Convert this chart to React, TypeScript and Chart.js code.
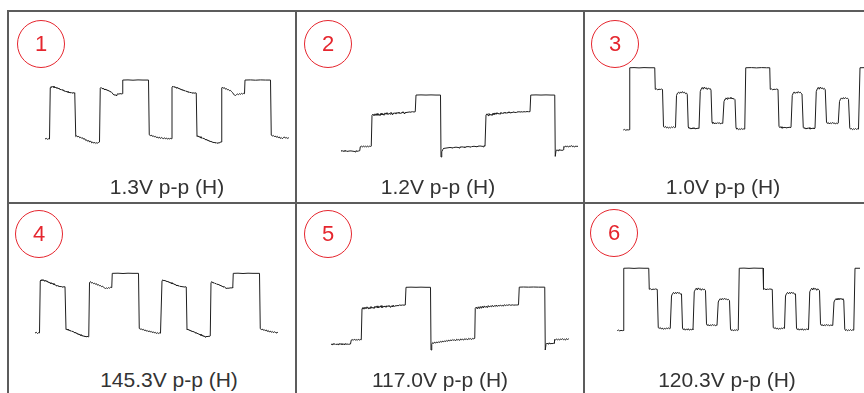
import React, { useEffect, useRef } from 'react';
import { Chart, registerables } from 'chart.js';

Chart.register(...registerables);

type Pt = [number, number];

// x: horizontal scope divisions, y: vertical scope divisions
const panelNumbers = ['1', '2', '3', '4', '5', '6'];
const ppLabels = ['1.3V p-p (H)', '1.2V p-p (H)', '1.0V p-p (H)', '145.3V p-p (H)', '117.0V p-p (H)', '120.3V p-p (H)'];

const wave1: Pt[] = [
  [0.48,2.40],[0.53,2.44],[0.58,2.38],[0.63,2.42],[0.66,2.40],
  [0.69,5.82],[0.72,5.90],[0.76,5.84],[0.80,5.92],[0.84,5.82],[0.88,5.88],[0.92,5.80],[0.96,5.84],[1.00,5.74],[1.04,5.80],[1.08,5.68],[1.12,5.72],[1.16,5.64],[1.20,5.70],[1.24,5.58],[1.28,5.62],[1.32,5.54],[1.36,5.58],[1.40,5.50],[1.44,5.54],[1.48,5.46],[1.52,5.52],[1.56,5.44],[1.60,5.50],[1.64,5.46],[1.67,5.48],
  [1.71,2.56],[1.75,2.62],[1.79,2.54],[1.83,2.58],[1.87,2.48],[1.91,2.52],[1.95,2.44],[1.99,2.48],[2.03,2.38],[2.07,2.42],[2.11,2.30],[2.15,2.34],[2.19,2.24],[2.23,2.30],[2.27,2.20],[2.31,2.26],[2.35,2.14],[2.39,2.20],[2.43,2.12],[2.47,2.18],[2.51,2.10],[2.55,2.16],[2.59,2.12],[2.63,2.18],[2.66,2.20],
  [2.69,5.78],[2.72,5.84],[2.76,5.76],[2.80,5.80],[2.84,5.70],[2.88,5.74],[2.92,5.66],[2.96,5.70],[3.00,5.60],[3.04,5.64],[3.08,5.54],[3.12,5.56],[3.16,5.48],[3.20,5.40],[3.24,5.32],[3.28,5.36],[3.32,5.30],[3.36,5.38],[3.40,5.42],[3.44,5.38],[3.48,5.44],[3.52,5.40],[3.57,5.42],
  [3.59,6.33],[3.80,6.34],[4.00,6.32],[4.20,6.34],[4.40,6.33],[4.62,6.33],
  [4.65,2.68],[4.69,2.62],[4.73,2.66],[4.77,2.58],[4.81,2.62],[4.85,2.54],[4.89,2.58],[4.93,2.50],[4.97,2.54],[5.01,2.46],[5.05,2.52],[5.09,2.44],[5.13,2.50],[5.17,2.46],[5.21,2.42],[5.25,2.48],[5.29,2.42],[5.33,2.46],[5.37,2.40],[5.41,2.44],[5.45,2.40],[5.49,2.44],[5.53,2.42],
  [5.56,5.86],[5.60,5.92],[5.64,5.84],[5.68,5.90],[5.72,5.80],[5.76,5.86],[5.80,5.76],[5.84,5.80],[5.88,5.70],[5.92,5.74],[5.96,5.64],[6.00,5.70],[6.04,5.60],[6.08,5.64],[6.12,5.56],[6.16,5.60],[6.20,5.50],[6.24,5.56],[6.28,5.48],[6.32,5.52],[6.36,5.44],[6.40,5.50],[6.44,5.44],[6.48,5.48],[6.53,5.46],
  [6.56,2.56],[6.60,2.62],[6.64,2.52],[6.68,2.56],[6.72,2.46],[6.76,2.50],[6.80,2.42],[6.84,2.46],[6.88,2.36],[6.92,2.40],[6.96,2.30],[7.00,2.34],[7.04,2.24],[7.08,2.28],[7.12,2.20],[7.16,2.24],[7.20,2.14],[7.24,2.20],[7.28,2.12],[7.32,2.18],[7.36,2.10],[7.40,2.16],[7.44,2.12],[7.48,2.18],[7.52,2.20],
  [7.55,5.80],[7.58,5.86],[7.62,5.78],[7.66,5.82],[7.70,5.72],[7.74,5.76],[7.78,5.68],[7.82,5.70],[7.86,5.62],[7.90,5.64],[7.94,5.56],[7.98,5.50],[8.02,5.40],[8.06,5.32],[8.10,5.30],[8.14,5.36],[8.18,5.40],[8.22,5.36],[8.26,5.42],[8.30,5.38],[8.34,5.44],[8.38,5.40],[8.42,5.44],[8.46,5.42],
  [8.48,6.33],[8.70,6.34],[8.90,6.32],[9.10,6.34],[9.30,6.33],[9.50,6.33],
  [9.53,2.66],[9.57,2.60],[9.61,2.64],[9.65,2.56],[9.69,2.60],[9.73,2.52],[9.77,2.58],[9.81,2.48],[9.85,2.54],[9.89,2.44],[9.93,2.50],[9.97,2.42],[10.01,2.48],[10.05,2.54],[10.09,2.46],[10.13,2.50],[10.17,2.44],[10.21,2.48],[10.24,2.46],
];

const wave2: Pt[] = [
  [0.80,1.60],[0.84,1.64],[0.88,1.56],[0.92,1.62],[0.96,1.58],[1.00,1.64],[1.04,1.55],[1.08,1.61],[1.12,1.57],[1.16,1.63],[1.20,1.58],[1.24,1.62],[1.28,1.56],[1.32,1.60],[1.36,1.54],[1.40,1.62],[1.44,1.58],[1.50,1.60],[1.55,1.62],
  [1.57,1.88],[1.62,1.92],[1.66,1.86],[1.70,1.94],[1.74,1.88],[1.78,1.92],[1.82,1.86],[1.86,1.94],[1.90,1.88],[1.94,1.92],[1.98,1.90],[2.01,1.92],
  [2.04,3.98],[2.08,4.06],[2.12,3.94],[2.16,4.08],[2.20,3.96],[2.24,4.10],[2.28,3.98],[2.32,4.06],[2.36,3.95],[2.40,4.12],[2.44,4.00],[2.48,4.08],[2.52,3.98],[2.56,4.14],[2.60,4.04],[2.64,4.16],[2.68,4.02],[2.72,4.12],[2.76,4.06],[2.80,4.18],[2.84,4.04],[2.88,4.14],[2.92,4.08],[2.96,4.16],[3.00,4.06],[3.04,4.18],[3.08,4.10],[3.12,4.20],[3.16,4.08],[3.20,4.16],[3.24,4.12],[3.28,4.22],[3.32,4.10],[3.36,4.18],[3.40,4.14],[3.44,4.20],[3.48,4.16],[3.52,4.22],[3.56,4.18],[3.60,4.20],[3.66,4.22],[3.72,4.20],[3.77,4.22],
  [3.80,5.33],[4.00,5.34],[4.20,5.33],[4.40,5.34],[4.60,5.33],[4.78,5.33],
  [4.80,1.20],[4.83,1.55],[4.88,1.72],[4.92,1.80],[4.96,1.76],[5.00,1.82],[5.04,1.78],[5.08,1.84],[5.12,1.80],[5.16,1.86],[5.20,1.80],[5.24,1.84],[5.28,1.78],[5.32,1.86],[5.36,1.82],[5.40,1.88],[5.44,1.82],[5.48,1.86],[5.52,1.80],[5.56,1.88],[5.60,1.84],[5.64,1.90],[5.68,1.84],[5.72,1.88],[5.76,1.82],[5.80,1.90],[5.84,1.86],[5.88,1.92],[5.92,1.86],[5.96,1.90],[6.00,1.84],[6.04,1.92],[6.08,1.88],[6.12,1.94],[6.16,1.88],[6.20,1.92],[6.24,1.86],[6.28,1.94],[6.32,1.90],[6.36,1.96],[6.40,1.90],[6.44,1.94],[6.48,1.88],[6.52,1.96],[6.56,1.92],
  [6.60,4.00],[6.64,4.08],[6.68,3.96],[6.72,4.10],[6.76,3.98],[6.80,4.06],[6.84,3.96],[6.88,4.12],[6.92,4.02],[6.96,4.14],[7.00,4.04],[7.04,4.16],[7.08,4.06],[7.12,4.12],[7.16,4.04],[7.20,4.18],[7.24,4.08],[7.28,4.16],[7.32,4.10],[7.36,4.20],[7.40,4.10],[7.44,4.18],[7.48,4.12],[7.52,4.22],[7.56,4.12],[7.60,4.18],[7.64,4.14],[7.68,4.22],[7.72,4.16],[7.76,4.20],[7.80,4.14],[7.84,4.22],[7.88,4.18],[7.92,4.24],[7.96,4.18],[8.00,4.22],[8.06,4.20],[8.12,4.22],[8.18,4.21],[8.24,4.23],[8.30,4.22],[8.36,4.22],
  [8.39,5.33],[8.60,5.34],[8.80,5.33],[9.00,5.34],[9.20,5.33],[9.35,5.33],
  [9.37,1.24],[9.40,1.62],[9.44,1.68],[9.48,1.62],[9.52,1.70],[9.56,1.64],[9.60,1.68],[9.64,1.62],[9.68,1.68],
  [9.71,1.90],[9.75,1.86],[9.79,1.94],[9.83,1.88],[9.87,1.92],[9.91,1.86],[9.95,1.94],[9.99,1.90],[10.03,1.96],[10.07,1.88],[10.11,1.92],[10.15,1.86],[10.19,1.94],[10.23,1.90],[10.28,1.92],
];

const wave3: Pt[] = [
  [0.57,3.00],[0.62,3.04],[0.67,2.98],[0.72,3.02],[0.77,3.00],[0.80,3.02],
  [0.83,7.15],[1.00,7.16],[1.20,7.14],[1.40,7.16],[1.60,7.15],[1.83,7.15],
  [1.85,5.71],[1.90,5.74],[1.95,5.68],[2.00,5.72],[2.05,5.70],[2.10,5.73],[2.14,5.70],
  [2.18,3.22],[2.22,3.18],[2.26,3.24],[2.30,3.14],[2.34,3.20],[2.38,3.12],[2.42,3.18],[2.46,3.14],[2.50,3.20],[2.54,3.16],[2.58,3.22],[2.62,3.16],[2.66,3.18],
  [2.70,5.30],[2.74,5.46],[2.78,5.52],[2.82,5.44],[2.86,5.54],[2.90,5.46],[2.94,5.56],[2.98,5.48],[3.02,5.52],[3.06,5.42],[3.10,5.46],[3.13,5.38],
  [3.17,3.20],[3.20,3.10],[3.24,3.16],[3.28,3.06],[3.32,3.14],[3.36,3.08],[3.40,3.16],[3.44,3.06],[3.48,3.12],[3.52,3.08],[3.56,3.14],[3.60,3.10],
  [3.65,5.56],[3.69,5.74],[3.73,5.84],[3.77,5.72],[3.81,5.86],[3.85,5.76],[3.89,5.82],[3.93,5.70],[3.97,5.80],[4.01,5.74],[4.05,5.76],[4.08,5.66],
  [4.12,3.52],[4.15,3.44],[4.19,3.50],[4.23,3.40],[4.27,3.48],[4.31,3.42],[4.35,3.50],[4.39,3.44],[4.43,3.48],[4.47,3.40],[4.51,3.46],[4.55,3.44],
  [4.60,4.90],[4.64,5.06],[4.68,5.14],[4.72,5.06],[4.76,5.16],[4.80,5.08],[4.84,5.16],[4.88,5.10],[4.92,5.14],[4.96,5.06],[5.00,5.10],[5.04,5.02],
  [5.08,3.14],[5.11,3.06],[5.15,3.10],[5.19,3.02],[5.23,3.08],[5.27,3.04],[5.31,3.10],[5.35,3.04],[5.39,3.08],[5.43,3.06],
  [5.47,7.15],[5.70,7.16],[5.90,7.14],[6.10,7.16],[6.30,7.15],[6.43,7.15],
  [6.45,5.71],[6.50,5.74],[6.55,5.68],[6.60,5.72],[6.65,5.70],[6.70,5.73],[6.76,5.70],
  [6.80,3.22],[6.84,3.16],[6.88,3.22],[6.92,3.12],[6.96,3.18],[7.00,3.14],[7.04,3.20],[7.08,3.12],[7.12,3.18],[7.16,3.14],[7.20,3.20],[7.24,3.16],[7.28,3.18],
  [7.33,5.30],[7.37,5.46],[7.41,5.54],[7.45,5.44],[7.49,5.52],[7.53,5.46],[7.57,5.56],[7.61,5.48],[7.65,5.52],[7.69,5.44],[7.72,5.40],
  [7.77,3.18],[7.80,3.10],[7.84,3.16],[7.88,3.06],[7.92,3.14],[7.96,3.08],[8.00,3.16],[8.04,3.06],[8.08,3.12],[8.12,3.08],[8.16,3.14],[8.20,3.08],[8.24,3.12],
  [8.29,5.56],[8.33,5.74],[8.37,5.84],[8.41,5.72],[8.45,5.86],[8.49,5.76],[8.53,5.82],[8.57,5.72],[8.61,5.78],[8.65,5.68],
  [8.70,3.52],[8.73,3.44],[8.77,3.50],[8.81,3.40],[8.85,3.48],[8.89,3.42],[8.93,3.50],[8.97,3.44],[9.01,3.48],[9.05,3.40],[9.09,3.46],[9.13,3.42],[9.17,3.46],
  [9.22,4.90],[9.26,5.06],[9.30,5.14],[9.34,5.06],[9.38,5.16],[9.42,5.08],[9.46,5.16],[9.50,5.10],[9.54,5.12],[9.58,5.04],
  [9.63,3.14],[9.66,3.06],[9.70,3.10],[9.74,3.02],[9.78,3.08],[9.82,3.04],[9.86,3.10],[9.90,3.04],[9.94,3.08],[9.98,3.06],
  [10.04,7.15],[10.30,7.16],[10.60,7.15],
];

const wave4: Pt[] = [
  [0.08,2.33],[0.13,2.38],[0.18,2.30],[0.23,2.36],[0.26,2.34],
  [0.29,5.80],[0.32,5.88],[0.36,5.82],[0.40,5.90],[0.44,5.80],[0.48,5.86],[0.52,5.76],[0.56,5.82],[0.60,5.70],[0.64,5.74],[0.68,5.64],[0.72,5.70],[0.76,5.60],[0.80,5.64],[0.84,5.54],[0.88,5.58],[0.92,5.48],[0.96,5.52],[1.00,5.44],[1.04,5.48],[1.08,5.40],[1.12,5.46],[1.16,5.38],[1.20,5.42],[1.24,5.40],[1.28,5.42],
  [1.32,2.56],[1.36,2.60],[1.40,2.52],[1.44,2.56],[1.48,2.46],[1.52,2.50],[1.56,2.42],[1.60,2.46],[1.64,2.36],[1.68,2.40],[1.72,2.30],[1.76,2.34],[1.80,2.22],[1.84,2.28],[1.88,2.18],[1.92,2.24],[1.96,2.12],[2.00,2.18],[2.04,2.08],[2.08,2.14],[2.12,2.06],[2.16,2.12],[2.20,2.08],[2.23,2.12],
  [2.26,5.70],[2.30,5.76],[2.34,5.66],[2.38,5.70],[2.42,5.62],[2.46,5.66],[2.50,5.58],[2.54,5.62],[2.58,5.52],[2.62,5.56],[2.66,5.48],[2.70,5.50],[2.74,5.42],[2.78,5.46],[2.82,5.38],[2.86,5.34],[2.90,5.30],[2.94,5.34],[2.98,5.30],[3.02,5.36],[3.06,5.32],[3.10,5.38],[3.15,5.36],
  [3.17,6.31],[3.40,6.32],[3.60,6.30],[3.80,6.32],[4.00,6.31],[4.22,6.31],
  [4.25,2.64],[4.29,2.58],[4.33,2.62],[4.37,2.54],[4.41,2.58],[4.45,2.50],[4.49,2.54],[4.53,2.46],[4.57,2.50],[4.61,2.42],[4.65,2.48],[4.69,2.40],[4.73,2.44],[4.77,2.36],[4.81,2.42],[4.85,2.34],[4.89,2.38],[4.93,2.30],[4.97,2.36],[5.01,2.30],[5.05,2.34],[5.10,2.32],
  [5.16,5.82],[5.20,5.88],[5.24,5.80],[5.28,5.86],[5.32,5.76],[5.36,5.80],[5.40,5.72],[5.44,5.76],[5.48,5.66],[5.52,5.70],[5.56,5.60],[5.60,5.66],[5.64,5.56],[5.68,5.60],[5.72,5.50],[5.76,5.54],[5.80,5.46],[5.84,5.50],[5.88,5.42],[5.92,5.46],[5.96,5.40],[6.00,5.44],[6.04,5.38],[6.08,5.42],[6.13,5.40],
  [6.16,2.54],[6.20,2.60],[6.24,2.50],[6.28,2.54],[6.32,2.44],[6.36,2.48],[6.40,2.40],[6.44,2.44],[6.48,2.34],[6.52,2.38],[6.56,2.28],[6.60,2.32],[6.64,2.22],[6.68,2.26],[6.72,2.16],[6.76,2.22],[6.80,2.10],[6.84,2.16],[6.88,2.06],[6.92,2.12],[6.96,2.08],[7.00,2.12],[7.04,2.10],[7.09,2.14],
  [7.12,5.70],[7.16,5.76],[7.20,5.66],[7.24,5.70],[7.28,5.62],[7.32,5.64],[7.36,5.56],[7.40,5.60],[7.44,5.52],[7.48,5.54],[7.52,5.46],[7.56,5.48],[7.60,5.40],[7.64,5.44],[7.68,5.36],[7.72,5.32],[7.76,5.30],[7.80,5.34],[7.84,5.30],[7.88,5.36],[7.92,5.32],[7.96,5.36],[7.99,5.34],
  [8.01,6.31],[8.20,6.32],[8.40,6.30],[8.60,6.32],[8.80,6.31],[9.06,6.31],
  [9.09,2.62],[9.13,2.56],[9.17,2.60],[9.21,2.52],[9.25,2.56],[9.29,2.48],[9.33,2.54],[9.37,2.44],[9.41,2.50],[9.45,2.40],[9.49,2.46],[9.53,2.38],[9.57,2.44],[9.61,2.36],[9.65,2.42],[9.69,2.38],[9.73,2.34],[9.76,2.40],[9.79,2.36],
];

const wave5: Pt[] = [
  [0.40,1.60],[0.44,1.56],[0.48,1.63],[0.52,1.57],[0.56,1.62],[0.60,1.55],[0.64,1.61],[0.68,1.56],[0.72,1.63],[0.76,1.58],[0.80,1.62],[0.84,1.56],[0.88,1.61],[0.92,1.57],[0.96,1.63],[1.00,1.58],[1.04,1.60],[1.10,1.58],[1.18,1.60],
  [1.21,1.86],[1.25,1.90],[1.29,1.84],[1.33,1.92],[1.37,1.86],[1.41,1.90],[1.45,1.84],[1.49,1.92],[1.53,1.86],[1.57,1.90],[1.61,1.88],
  [1.64,3.96],[1.68,4.04],[1.72,3.92],[1.76,4.06],[1.80,3.94],[1.84,4.08],[1.88,3.96],[1.92,4.04],[1.96,3.94],[2.00,4.10],[2.04,3.98],[2.08,4.06],[2.12,3.96],[2.16,4.12],[2.20,4.02],[2.24,4.14],[2.28,4.00],[2.32,4.10],[2.36,4.04],[2.40,4.16],[2.44,4.02],[2.48,4.12],[2.52,4.06],[2.56,4.14],[2.60,4.04],[2.64,4.16],[2.68,4.08],[2.72,4.18],[2.76,4.06],[2.80,4.14],[2.84,4.10],[2.88,4.20],[2.92,4.08],[2.96,4.16],[3.00,4.12],[3.04,4.18],[3.08,4.14],[3.14,4.20],[3.20,4.18],[3.26,4.20],[3.32,4.19],[3.37,4.20],
  [3.40,5.38],[3.60,5.39],[3.80,5.38],[4.00,5.39],[4.20,5.38],[4.38,5.38],
  [4.40,1.20],[4.43,1.58],[4.47,1.70],[4.51,1.64],[4.55,1.72],[4.59,1.66],[4.63,1.74],[4.67,1.68],[4.71,1.76],[4.75,1.70],[4.79,1.78],[4.83,1.72],[4.87,1.80],[4.91,1.74],[4.95,1.82],[4.99,1.76],[5.03,1.84],[5.07,1.78],[5.11,1.86],[5.15,1.80],[5.19,1.88],[5.23,1.82],[5.27,1.90],[5.31,1.84],[5.35,1.88],[5.39,1.82],[5.43,1.92],[5.47,1.86],[5.51,1.90],[5.55,1.84],[5.59,1.94],[5.63,1.88],[5.67,1.92],[5.71,1.86],[5.75,1.96],[5.79,1.90],[5.83,1.94],[5.87,1.88],[5.91,1.98],[5.95,1.92],[5.99,1.96],[6.03,1.90],[6.07,1.98],[6.11,1.94],[6.15,1.98],
  [6.17,3.98],[6.21,4.06],[6.25,3.94],[6.29,4.08],[6.33,3.96],[6.37,4.10],[6.41,3.98],[6.45,4.12],[6.49,4.00],[6.53,4.14],[6.57,4.04],[6.61,4.12],[6.65,4.02],[6.69,4.16],[6.73,4.06],[6.77,4.14],[6.81,4.08],[6.85,4.18],[6.89,4.08],[6.93,4.16],[6.97,4.10],[7.01,4.20],[7.05,4.10],[7.09,4.18],[7.13,4.12],[7.17,4.20],[7.21,4.14],[7.25,4.18],[7.29,4.12],[7.33,4.22],[7.37,4.16],[7.41,4.20],[7.47,4.18],[7.53,4.22],[7.59,4.18],[7.65,4.21],[7.71,4.19],[7.77,4.20],[7.83,4.20],[7.90,4.21],
  [7.93,5.39],[8.10,5.40],[8.30,5.39],[8.50,5.40],[8.70,5.39],[8.95,5.39],
  [8.97,1.20],[9.00,1.58],[9.04,1.66],[9.08,1.60],[9.12,1.68],[9.16,1.62],[9.20,1.66],[9.24,1.60],[9.28,1.66],[9.32,1.64],
  [9.34,1.90],[9.38,1.86],[9.42,1.94],[9.46,1.88],[9.50,1.92],[9.54,1.86],[9.58,1.94],[9.62,1.90],[9.66,1.96],[9.70,1.88],[9.74,1.92],[9.78,1.86],[9.82,1.96],[9.86,1.90],[9.90,1.94],[9.92,1.92],
];

const wave6: Pt[] = [
  [0.33,2.49],[0.38,2.53],[0.43,2.47],[0.48,2.51],[0.53,2.49],[0.56,2.50],
  [0.59,6.65],[0.80,6.66],[1.00,6.64],[1.20,6.66],[1.40,6.65],[1.59,6.65],
  [1.61,5.25],[1.66,5.28],[1.71,5.22],[1.76,5.26],[1.81,5.24],[1.86,5.27],[1.93,5.24],
  [1.97,2.69],[2.01,2.64],[2.05,2.70],[2.09,2.60],[2.13,2.66],[2.17,2.58],[2.21,2.64],[2.25,2.60],[2.29,2.66],[2.33,2.62],[2.37,2.68],[2.41,2.62],[2.45,2.64],
  [2.50,4.80],[2.54,4.96],[2.58,5.04],[2.62,4.94],[2.66,5.04],[2.70,4.96],[2.74,5.06],[2.78,4.98],[2.82,5.02],[2.86,4.92],[2.90,4.94],
  [2.94,2.66],[2.97,2.56],[3.01,2.62],[3.05,2.52],[3.09,2.60],[3.13,2.54],[3.17,2.62],[3.21,2.52],[3.25,2.58],[3.29,2.54],[3.33,2.60],[3.36,2.56],
  [3.41,5.08],[3.45,5.22],[3.49,5.32],[3.53,5.20],[3.57,5.34],[3.61,5.24],[3.65,5.30],[3.69,5.18],[3.73,5.28],[3.77,5.22],[3.81,5.26],[3.86,5.16],
  [3.90,2.94],[3.93,2.84],[3.97,2.90],[4.01,2.80],[4.05,2.88],[4.09,2.82],[4.13,2.90],[4.17,2.84],[4.21,2.88],[4.25,2.82],[4.29,2.86],[4.32,2.84],
  [4.37,4.40],[4.41,4.54],[4.45,4.62],[4.49,4.54],[4.53,4.64],[4.57,4.56],[4.61,4.64],[4.65,4.58],[4.69,4.62],[4.73,4.54],[4.77,4.58],[4.82,4.50],
  [4.86,2.60],[4.89,2.50],[4.93,2.56],[4.97,2.48],[5.01,2.54],[5.05,2.50],[5.09,2.56],[5.13,2.50],[5.17,2.53],
  [5.21,6.65],[5.40,6.66],[5.60,6.64],[5.80,6.66],[6.00,6.65],[6.16,6.65],
  [6.18,5.25],[6.23,5.28],[6.28,5.22],[6.33,5.26],[6.38,5.24],[6.43,5.27],[6.53,5.24],
  [6.57,2.69],[6.61,2.64],[6.65,2.70],[6.69,2.60],[6.73,2.66],[6.77,2.58],[6.81,2.64],[6.85,2.60],[6.89,2.66],[6.93,2.62],[6.97,2.68],[7.02,2.64],
  [7.06,4.80],[7.10,4.96],[7.14,5.04],[7.18,4.94],[7.22,5.04],[7.26,4.96],[7.30,5.06],[7.34,4.98],[7.38,5.02],[7.42,4.92],[7.46,4.94],
  [7.50,2.66],[7.53,2.56],[7.57,2.62],[7.61,2.52],[7.65,2.60],[7.69,2.54],[7.73,2.62],[7.77,2.52],[7.81,2.58],[7.85,2.54],[7.89,2.60],[7.98,2.56],
  [8.03,5.08],[8.07,5.22],[8.11,5.32],[8.15,5.20],[8.19,5.34],[8.23,5.24],[8.27,5.30],[8.31,5.18],[8.35,5.28],[8.39,5.22],[8.42,5.16],
  [8.46,2.94],[8.49,2.84],[8.53,2.90],[8.57,2.80],[8.61,2.88],[8.65,2.82],[8.69,2.90],[8.73,2.84],[8.77,2.88],[8.81,2.82],[8.85,2.86],[8.95,2.84],
  [9.00,4.40],[9.04,4.54],[9.08,4.62],[9.12,4.54],[9.16,4.64],[9.20,4.56],[9.24,4.64],[9.28,4.58],[9.32,4.62],[9.36,4.54],[9.39,4.52],
  [9.43,2.60],[9.46,2.50],[9.50,2.56],[9.54,2.48],[9.58,2.54],[9.62,2.50],[9.66,2.56],[9.70,2.50],[9.74,2.54],[9.79,2.52],
  [9.84,6.65],[10.04,6.65],
];

const waves = [wave1, wave2, wave3, wave4, wave5, wave6];

const FONT = '"Liberation Sans", Arial, Helvetica, sans-serif';
const RED = '#e5262e';
const LINE = '#5c5c5c';

// layout of the six cells
const canvasLefts = [33, 321, 609];
const canvasTops = [55, 248];
const circleCenters: [number, number][] = [[41, 44], [328, 44], [615, 44], [39, 234], [328, 234], [614, 233]];
const labelCenters = [167, 438, 723, 169, 440, 727];
const labelTops = [176, 369];

function Trace({ wave, left, top }: { wave: Pt[]; left: number; top: number }) {
  const ref = useRef<HTMLCanvasElement>(null);
  useEffect(() => {
    const chart = new Chart(ref.current as HTMLCanvasElement, {
      type: 'line',
      data: {
        datasets: [
          {
            data: wave.map(([x, y]) => ({ x, y })),
            borderColor: '#1e1e1e',
            borderWidth: 1,
            pointRadius: 0,
            tension: 0,
            fill: false,
          },
        ],
      },
      options: {
        responsive: false,
        maintainAspectRatio: false,
        animation: false,
        events: [],
        layout: { padding: 0 },
        plugins: { legend: { display: false }, tooltip: { enabled: false } },
        scales: {
          x: { type: 'linear', display: false, min: 0, max: 11 },
          y: { type: 'linear', display: false, min: 0, max: 8 },
        },
      },
    } as any);
    return () => chart.destroy();
  }, [wave]);
  return (
    <canvas
      ref={ref}
      width={275}
      height={120}
      style={{ position: 'absolute', left, top, width: 275, height: 120 }}
    />
  );
}

export default function App() {
  const lines = [
    { left: 7, top: 10, width: 857, height: 2 },
    { left: 7, top: 202, width: 857, height: 2 },
    { left: 7, top: 10, width: 2, height: 383 },
    { left: 295, top: 10, width: 2, height: 383 },
    { left: 583, top: 10, width: 2, height: 383 },
  ];
  return (
    <div
      style={{
        position: 'fixed',
        left: 0,
        top: 0,
        width: 864,
        height: 393,
        overflow: 'hidden',
        background: '#fff',
        fontFamily: FONT,
      }}
    >
      {waves.map((w, i) => (
        <Trace key={'t' + i} wave={w} left={canvasLefts[i % 3]} top={canvasTops[Math.floor(i / 3)]} />
      ))}
      {lines.map((l, i) => (
        <div key={'l' + i} style={{ position: 'absolute', background: LINE, ...l }} />
      ))}
      {panelNumbers.map((n, i) => (
        <div
          key={'c' + i}
          style={{
            position: 'absolute',
            left: circleCenters[i][0] - 24,
            top: circleCenters[i][1] - 24,
            width: 48,
            height: 48,
            boxSizing: 'border-box',
            border: `1.5px solid ${RED}`,
            borderRadius: '50%',
            display: 'flex',
            alignItems: 'center',
            justifyContent: 'center',
            color: RED,
            fontSize: 22,
            lineHeight: 1,
          }}
        >
          {n}
        </div>
      ))}
      {ppLabels.map((t, i) => (
        <div
          key={'p' + i}
          style={{
            position: 'absolute',
            left: labelCenters[i] - 110,
            width: 220,
            top: labelTops[Math.floor(i / 3)],
            textAlign: 'center',
            fontSize: 21,
            lineHeight: '21px',
            color: '#333',
            whiteSpace: 'nowrap',
          }}
        >
          {t}
        </div>
      ))}
    </div>
  );
}
